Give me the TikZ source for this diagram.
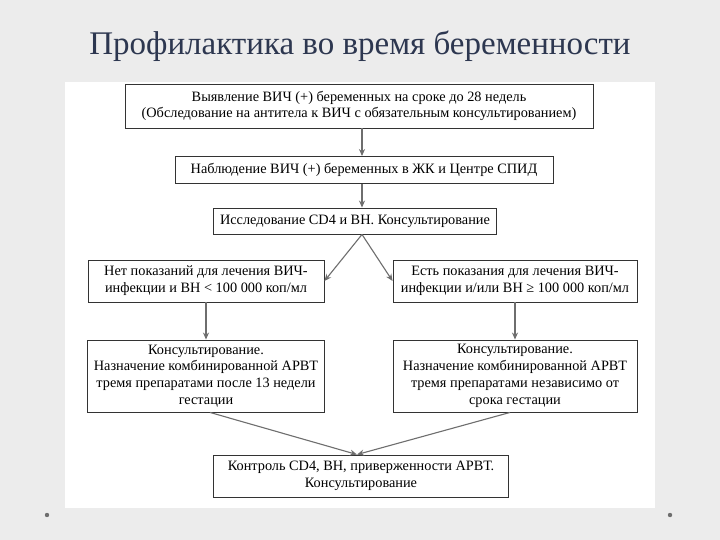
\documentclass[tikz,border=0pt]{standalone}
\usepackage{fontspec}
\setmainfont{Liberation Serif}
\usetikzlibrary{arrows.meta}
\definecolor{bg}{RGB}{236,236,236}
\definecolor{ttl}{RGB}{45,55,80}
\definecolor{arr}{RGB}{110,110,110}
\tikzset{
 box/.style={draw=black!80,line width=0.9pt,fill=white,align=center,font=\fontsize{14.3}{16.8}\selectfont,inner sep=1pt},
 con/.style={draw=arr,line width=1.1pt,-{Stealth[length=7pt,width=6pt]}}
}
\begin{document}
\begin{tikzpicture}[x=1pt,y=-1pt]
\fill[bg] (0,0) rectangle (720,540);
\useasboundingbox (0,0) rectangle (720,540);
\fill[white] (65,82) rectangle (655,508);
\node[font=\fontsize{33}{38}\selectfont,text=ttl] (title) at (360,46) {Профилактика во время беременности};
\fill[arr] (47,515) circle (2.2) (670,515) circle (2.2);
\node[box,minimum width=468,minimum height=44] (b1) at (359,106) {Выявление ВИЧ (+) беременных на сроке до 28 недель\\(Обследование на антитела к ВИЧ с обязательным консультированием)};
\node[box,minimum width=378,minimum height=27] (b2) at (364,170) {Наблюдение ВИЧ (+) беременных в ЖК и Центре СПИД};
\node[box,minimum width=283,minimum height=26] (b3) at (355,221) {Исследование CD4 и ВН. Консультирование};
\node[box,minimum width=236,minimum height=42] (b4l) at (206,281) {Нет показаний для лечения ВИЧ-\\инфекции и ВН < 100 000 коп/мл};
\node[box,minimum width=244,minimum height=42] (b4r) at (515,281) {Есть показания для лечения ВИЧ-\\инфекции и/или ВН ≥ 100 000 коп/мл};
\node[box,minimum width=237,minimum height=72] (b5l) at (206,376) {Консультирование.\\Назначение комбинированной АРВТ\\тремя препаратами после 13 недели\\гестации};
\node[box,minimum width=244,minimum height=72] (b5r) at (515,376) {Консультирование.\\Назначение комбинированной АРВТ\\тремя препаратами независимо от\\срока гестации};
\node[box,minimum width=295,minimum height=42] (b6) at (361,476) {Контроль CD4, ВН, приверженности АРВТ.\\Консультирование};
\draw[con] (b1.south -| 362,0) -- (b2.north -| 362,0);
\draw[con] (b2.south -| 362,0) -- (b3.north -| 362,0);
\draw[con] (b3.south -| 362,0) -- (b4l.east);
\draw[con] (b3.south -| 362,0) -- (b4r.west);
\draw[con] (b4l) -- (b5l);
\draw[con] (b4r) -- (b5r);
\draw[con] (b5l.south -| 210,0) -- (b6.north -| 357,0);
\draw[con] (b5r.south -| 510,0) -- (b6.north -| 357,0);
\end{tikzpicture}
\end{document}
